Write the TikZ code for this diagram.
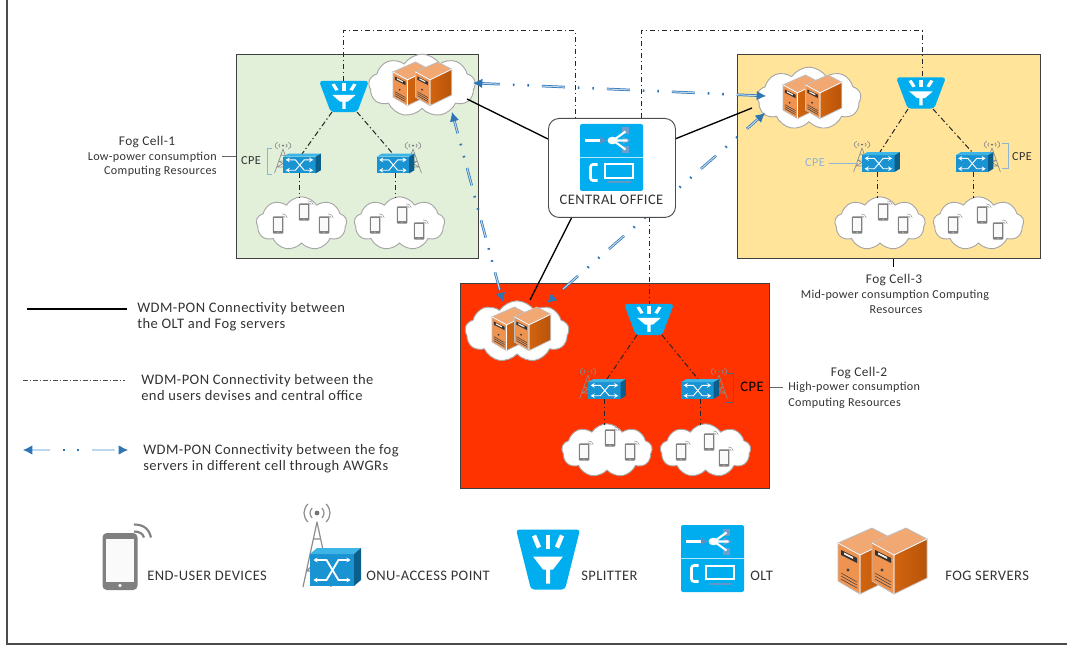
\documentclass[tikz,border=0pt]{standalone}
\usepackage{fontspec}
\setmainfont[LetterSpace=3]{Carlito}
\usetikzlibrary{arrows.meta,shapes.symbols,calc}
\definecolor{cyanicon}{HTML}{00AEEF}
\definecolor{onufront}{HTML}{1A93D2}
\definecolor{onutop}{HTML}{3DB4E6}
\definecolor{onuside}{HTML}{0B5F8A}
\definecolor{cellgreen}{HTML}{E2EFD9}
\definecolor{cellyellow}{HTML}{FFE49A}
\definecolor{cellred}{HTML}{FF3300}
\definecolor{fogblue}{HTML}{2E75B6}
\definecolor{foglight}{HTML}{BDD7EE}
\definecolor{bracketblue}{HTML}{8DB4D8}
\definecolor{srvface}{HTML}{EE9350}
\definecolor{srvtop}{HTML}{F2A873}
\definecolor{srvside}{HTML}{D2640F}
\definecolor{srvsidedark}{HTML}{B85409}
\definecolor{txt}{HTML}{333333}
\tikzset{
  x=0.75pt,y=-0.75pt,
  cellbox/.style={draw=black!75,line width=0.8pt,inner sep=0,minimum width=#1},
  fogcloud/.style={cloud,cloud puffs=9,cloud puff arc=115,cloud ignores aspect,draw=black!35,line width=0.7pt,fill=white,inner sep=0},
  lbl/.style={font=\fontsize{10.9}{12}\selectfont,text=txt,inner sep=0},
  small/.style={font=\fontsize{9.2}{10.5}\selectfont,text=txt,inner sep=0},
  tiny/.style={font=\fontsize{9.1}{10.5}\selectfont,text=txt,inner sep=0},
  legendtext/.style={font=\fontsize{10.9}{12}\selectfont,text=txt,inner sep=0,anchor=west,align=left},
  solidlink/.style={draw=black,line width=1pt},
  dotlink/.style={draw=black!85,line width=0.75pt,dash pattern=on 4pt off 2pt on 1pt off 2pt},
  bracket/.style={draw=bracketblue,line width=0.6pt},
  pointer/.style={draw=black!60,line width=0.6pt},
  fogarrow/.style n args={3}{draw=fogblue,line width=1.9pt,shorten <=3pt,shorten >=3pt,
     dash pattern=on #1pt off #2pt on 1.2pt off #2pt on 1.2pt off #2pt,
     postaction={draw=foglight,line width=0.8pt,dash pattern=on #1pt off #3pt},
     postaction={draw=fogblue,shorten <=0pt,shorten >=0pt,line width=0.6pt,dash pattern=on 0pt off 2000pt,
        arrows={Latex[length=7pt,width=7pt]-Latex[length=7pt,width=7pt]}}},
  pics/server/.style={code={
    \foreach \dx in {0,34}{
      \begin{scope}[shift={(\dx,0)}]
      \fill[srvtop,draw=black!25,line width=0.6pt] (0,15)--(34,0)--(55,11)--(22,27)--cycle;
      \fill[srvface,draw=black!25,line width=0.6pt] (0,15)--(22,27)--(22,66)--(0,53)--cycle;
      \shade[left color=srvside,right color=srvsidedark,draw=black!25,line width=0.6pt] (22,27)--(55,11)--(55,50)--(22,66)--cycle;
      \draw[white,line width=0.5pt] (0,15)--(22,27)--(55,11) (22,27)--(22,66);
      \fill[black!80] (3,22)--(19,30)--(19,35)--(3,27)--cycle;
      \fill[white!80!srvface] (6,24.5)--(15,29)--(15,31)--(6,26.5)--cycle;
      \fill[black!75] (10,42) circle (1.6);
      \draw[black!75,line width=0.4pt] (3,45)--(19,54) (3,48)--(19,57) (3,51)--(19,60);
      \end{scope}}
  }},
  pics/splitter/.style={code={
    \fill[cyanicon,rounded corners=2.5pt] (-32,-30)--(32,-30)--(17,30)--(-17,30)--cycle;
    \fill[white] (-15,-3)--(15,-3)--(5,10)--(2,10)--(2,24)--(-2,24)--(-2,10)--(-5,10)--cycle;
    \fill[white] (-2,-25)--(2,-25)--(2,-11)--(-2,-11)--cycle;
    \fill[white] (-16,-23)--(-12,-25)--(-7,-13)--(-11,-11)--cycle;
    \fill[white] (16,-23)--(12,-25)--(7,-13)--(11,-11)--cycle;
  }},
  pics/olt/.style={code={
    \fill[cyanicon,rounded corners=1.5pt] (-31.5,-33.5) rectangle (31.5,33.5);
    \draw[white!70!cyanicon,line width=0.5pt] (-31.5,0)--(31.5,0);
    \fill[fogblue!80] (-12,-21)--(-5,-17)--(-12,-13)--cycle;
    \fill[fogblue!70] (10,-30)--(17,-30)--(17,-23)--(10,-23)--cycle;
    \fill[fogblue!70] (11,-21)--(19,-17)--(11,-13)--cycle;
    \fill[fogblue!70] (10,-11)--(17,-11)--(17,-4)--(10,-4)--cycle;
    \fill[white] (-27,-18.5) rectangle (-12,-15.5);
    \fill[white] (1,-17) ellipse (5 and 3.8);
    \draw[white,line width=1.6pt] (3,-18)--(14,-26) (3,-17)--(16,-17) (3,-16)--(14,-8);
    \draw[white,line width=2pt,rounded corners=2pt] (-14,7)--(-21,7)--(-21,23)--(-14,23);
    \draw[white,line width=1.5pt] (-6.5,7) rectangle (21.5,20.5);
    \fill[fogblue!75] (-4,24) rectangle (19,26);
  }},
  pics/onu/.style={code={
    \fill[onufront] (-25.5,-13) rectangle (18.5,19);
    \fill[onutop] (-25.5,-13)--(-18.5,-19)--(25.5,-19)--(18.5,-13)--cycle;
    \fill[onuside] (18.5,-13)--(25.5,-19)--(25.5,13)--(18.5,19)--cycle;
    \draw[white,line width=#1,{Stealth[length=3pt,width=3.6pt]}-{Stealth[length=3pt,width=3.6pt]}] (-22,-7)--(-9,-7)--(3,13)--(15,13);
    \draw[white,line width=#1,{Stealth[length=3pt,width=3.6pt]}-{Stealth[length=3pt,width=3.6pt]}] (-22,13)--(-9,13)--(3,-7)--(15,-7);
  }},
  pics/tower/.style={code={
    \draw[black!45,line width=#1,line join=round] (-14,0)--(0,-65)--(14,0) (-10.5,-16)--(10.5,-16) (-7,-32)--(7,-32) (-3.5,-48)--(3.5,-48) (-10.5,-16)--(7,-32) (10.5,-16)--(-7,-32);
    \fill[black!55] (0,-74) circle (2.4);
    \foreach \r in {7,13}{
      \draw[black!45,line width=#1] (-.7*\r,-74-.7*\r) .. controls (-1.1*\r,-74-.25*\r) and (-1.1*\r,-74+.25*\r) .. (-.7*\r,-74+.7*\r);
      \draw[black!45,line width=#1] (.7*\r,-74-.7*\r) .. controls (1.1*\r,-74-.25*\r) and (1.1*\r,-74+.25*\r) .. (.7*\r,-74+.7*\r);}
  }},
  pics/phone/.style={code={
    \fill[black!50,rounded corners=2*#1] (-17.5,-28.5) rectangle (17.5,28.5);
    \fill[black!2] (-14,-23) rectangle (14,20);
    \fill[white] (0,24) circle (1.8);
    \draw[black!50,line width=#1] (14,-30) .. controls (19,-30) and (23,-28) .. (24,-24);
    \draw[black!50,line width=#1] (14,-37) .. controls (23,-37) and (29,-33) .. (31,-24);
  }},
}
\newcommand{\smallphones}[6]{%
  \pic[scale=0.3] at (#1,#2) {phone=0.3pt};
  \pic[scale=0.3] at (#3,#4) {phone=0.3pt};
  \pic[scale=0.3] at (#5,#6) {phone=0.3pt};}
\begin{document}
\begin{tikzpicture}
\useasboundingbox (0,0) rectangle (1067,645);
\coordinate (bt) at (7,0); \coordinate (bc) at (7,644); \coordinate (br) at (1067,644);
\draw[black!70,line width=0.8pt] (bt)--(bc)--(br);

% cells
\node[cellbox=181.5pt,minimum height=153pt,fill=cellgreen,anchor=north west] (cell1) at (236,54) {};
\node[cellbox=227.25pt,minimum height=153pt,fill=cellyellow,anchor=north west] (cell3) at (737,54) {};
\node[cellbox=231.75pt,minimum height=153.75pt,fill=cellred,anchor=north west] (cell2) at (460,283) {};

% named end points
\coordinate (s1t) at (343,81); \coordinate (s1l) at (332,112); \coordinate (s1r) at (357,112);
\coordinate (s3t) at (922,77); \coordinate (s3l) at (908,109); \coordinate (s3r) at (933,109);
\coordinate (s2t) at (649,304); \coordinate (s2l) at (637,335); \coordinate (s2r) at (662,335);
\coordinate (cotl) at (575,118); \coordinate (cotr) at (641,118); \coordinate (cob) at (649,217);
\coordinate (col) at (548,139); \coordinate (cor) at (675,139); \coordinate (cobl) at (572,217);
\coordinate (j1a) at (343,31); \coordinate (j1b) at (575,31); \coordinate (j3a) at (641,31); \coordinate (j3b) at (922,31);
\coordinate (f1) at (467,99); \coordinate (f3) at (752,108); \coordinate (f2) at (530,300);

% device clouds
\node[fogcloud,minimum width=68pt,minimum height=40pt] (c1a) at (301.5,223.5) {};
\node[fogcloud,minimum width=68pt,minimum height=40pt] (c1b) at (399.5,223.5) {};
\node[fogcloud,minimum width=68pt,minimum height=40pt] (c3a) at (880,223.5) {};
\node[fogcloud,minimum width=68pt,minimum height=40pt] (c3b) at (978.5,223.5) {};
\node[fogcloud,minimum width=68pt,minimum height=40pt] (c2a) at (607,450.5) {};
\node[fogcloud,minimum width=68pt,minimum height=40pt] (c2b) at (705.5,450.5) {};
% server clouds
\node[fogcloud,minimum width=80pt,minimum height=47pt] (sc1) at (422,85.5) {};
\node[fogcloud,minimum width=78pt,minimum height=47pt] (sc3) at (809,98.5) {};
\node[fogcloud,minimum width=78pt,minimum height=46pt] (sc2) at (517,331.5) {};

\smallphones{278}{225}{304}{212}{324}{225}
\smallphones{375}{225}{402}{215}{419}{231}
\smallphones{857}{225}{883}{212}{903}{225}
\smallphones{953}{225}{982}{215}{998}{231}
\smallphones{584}{452}{610}{438}{630}{452}
\smallphones{681}{452}{709}{442}{724}{458}

\pic[scale=0.66] at (393,62) {server};
\pic[scale=0.66] at (783,75) {server};
\pic[scale=0.66] at (492,307) {server};

% access point coordinates
\coordinate (o1at) at (302,154); \coordinate (o1bt) at (393,154);
\coordinate (o3at) at (880,152); \coordinate (o3bt) at (972,152);
\coordinate (o2at) at (607,379); \coordinate (o2bt) at (698,379);
\coordinate (o1ab) at (299,173); \coordinate (o1bb) at (395,173);
\coordinate (o3ab) at (877,172); \coordinate (o3bb) at (973,172);
\coordinate (o2ab) at (604,399); \coordinate (o2bb) at (700,399);
\coordinate (d1a) at (299,198); \coordinate (d1b) at (395,198);
\coordinate (d3a) at (877,198); \coordinate (d3b) at (973,198);
\coordinate (d2a) at (604,425); \coordinate (d2b) at (700,425);

% dash-dot links
\draw[dotlink] (s1t)--(j1a)--(j1b)--(cotl);
\draw[dotlink] (cotr)--(j3a)--(j3b)--(s3t);
\draw[dotlink] (cob)--(s2t);
\draw[dotlink] (s1l)--(o1at); \draw[dotlink] (s1r)--(o1bt);
\draw[dotlink] (s3l)--(o3at); \draw[dotlink] (s3r)--(o3bt);
\draw[dotlink] (s2l)--(o2at); \draw[dotlink] (s2r)--(o2bt);
\draw[dotlink] (o1ab)--(d1a); \draw[dotlink] (o1bb)--(d1b);
\draw[dotlink] (o3ab)--(d3a); \draw[dotlink] (o3bb)--(d3b);
\draw[dotlink] (o2ab)--(d2a); \draw[dotlink] (o2bb)--(d2b);

% splitters
\pic[xscale=0.78,yscale=0.52] at (344,96.5) {splitter};
\pic[xscale=0.78,yscale=0.52] at (921,93) {splitter};
\pic[xscale=0.78,yscale=0.52] at (649,319.5) {splitter};

% towers and ONUs
\pic[xscale=0.6,yscale=0.37] at (283,173) {tower=0.5pt};
\pic[xscale=0.6,yscale=0.37] at (413,173) {tower=0.5pt};
\pic[xscale=0.6,yscale=0.37] at (862,172) {tower=0.5pt};
\pic[xscale=0.6,yscale=0.37] at (992,172) {tower=0.5pt};
\pic[xscale=0.6,yscale=0.37] at (588,399) {tower=0.5pt};
\pic[xscale=0.6,yscale=0.37] at (719,399) {tower=0.5pt};
\pic[xscale=0.74,yscale=0.52] at (302,163.5) {onu=0.7pt};
\pic[xscale=0.74,yscale=0.52] at (395.5,163.5) {onu=0.7pt};
\pic[xscale=0.74,yscale=0.52] at (881,162) {onu=0.7pt};
\pic[xscale=0.74,yscale=0.52] at (974.5,162) {onu=0.7pt};
\pic[xscale=0.74,yscale=0.52] at (607,389) {onu=0.7pt};
\pic[xscale=0.74,yscale=0.52] at (700,389) {onu=0.7pt};

% blue arrows
\coordinate (a1) at (473,83); \coordinate (a3) at (766,96);
\coordinate (b1) at (452,112); \coordinate (b2) at (503,302);
\coordinate (c3) at (765,113); \coordinate (c2) at (547,303);
\draw[fogarrow={17.25}{9.7}{31.5}] (a1)--(a3);
\draw[fogarrow={13.5}{8.2}{27}] (b1)--(b2);
\draw[fogarrow={15}{9.45}{30.75}] (c3)--(c2);

% solid links
\draw[solidlink] (f1)--(col);
\draw[solidlink] (cor)--(f3);
\draw[solidlink] (cobl)--(f2);

% central office
\node[draw=black!70,line width=0.7pt,fill=white,rounded corners=8pt,minimum width=95.25pt,minimum height=74.25pt,inner sep=0,anchor=north west] (co) at (548,118) {};
\pic at (611.5,157.5) {olt};
\node[lbl] (cotext) at (611.5,200) {CENTRAL OFFICE};

% cell labels
\node[font=\fontsize{10}{12}\selectfont,text=txt,inner sep=0] (n1) at (147,142) {Fog Cell-1};
\node[tiny,anchor=east] (n1b) at (217,157) {Low-power consumption};
\node[tiny,anchor=east] (n1c) at (217,171) {Computing Resources};
\coordinate (n1p) at (222,156);
\draw[pointer] (n1p)--(n1p-|cell1.west);
\node[small] (cpe1) at (251,161) {CPE};
\coordinate (k1a) at (272,148); \coordinate (k1b) at (267,148); \coordinate (k1c) at (267,174); \coordinate (k1d) at (272,174);
\draw[bracket] (k1a)--(k1b)--(k1c)--(k1d);

\node[font=\fontsize{10}{12}\selectfont,text=txt,inner sep=0] (n2) at (859,373) {Fog Cell-2};
\node[tiny,anchor=west] (n2b) at (788,387) {High-power consumption};
\node[tiny,anchor=west] (n2c) at (788,403) {Computing Resources};
\coordinate (n2p) at (783,387);
\draw[pointer] (n2p)--(n2p-|cell2.east);
\node[lbl,text=black] (cpe2) at (752,387) {CPE};
\coordinate (k2a) at (727,373); \coordinate (k2b) at (733,373); \coordinate (k2c) at (733,402); \coordinate (k2d) at (725,402);
\draw[draw=black!45!bracketblue,line width=0.6pt] (k2a)--(k2b)--(k2c)--(k2d);

\coordinate (n3p) at (893,267);
\draw[draw=black,line width=0.7pt] (n3p)--(n3p|-cell3.south);
\node[font=\fontsize{10}{12}\selectfont,text=txt,inner sep=0] (n3) at (894,280) {Fog Cell-3};
\node[tiny] (n3b) at (895,295) {Mid-power consumption Computing};
\node[tiny] (n3c) at (896,310) {Resources};
\node[small,text=bracketblue] (cpe3a) at (815,163) {CPE};
\coordinate (l3) at (858,163);
\draw[bracket] (cpe3a.east)+(4,0)--(l3);
\node[small] (cpe3b) at (1022,157) {CPE};
\coordinate (k3a) at (1002,143); \coordinate (k3b) at (1008,143); \coordinate (k3c) at (1008,168); \coordinate (k3d) at (1002,168);
\draw[bracket] (k3a)--(k3b)--(k3c)--(k3d);

% legend lines
\coordinate (ll1) at (27,309); \coordinate (ll2) at (127,309);
\coordinate (lm1) at (23,380); \coordinate (lm2) at (125,380);
\coordinate (ln1) at (23,450); \coordinate (ln2) at (128,450);
\draw[solidlink] (ll1)--(ll2);
\draw[draw=black!70,line width=0.5pt,dash pattern=on 3.5pt off 1.5pt on 1pt off 1.5pt] (lm1)--(lm2);
\draw[fogarrow={17.25}{9.7}{31.5}] (ln1)--(ln2);
\node[legendtext] (t1) at (137,317) {WDM-PON Connectivity between\\the OLT and Fog servers};
\node[legendtext] (t2) at (141,388) {WDM-PON Connectivity between the\\end users devises and central office};
\node[legendtext] (t3) at (143,459) {WDM-PON Connectivity between the fog\\servers in different cell through AWGRs};

% legend icons
\pic at (120,561.5) {phone=1.6pt};
\pic at (317,587) {tower=0.9pt};
\pic at (335.5,567) {onu=1.4pt};
\pic at (548,559.5) {splitter};
\pic at (712.5,558.5) {olt};
\pic at (838,528) {server};
\node[lbl,anchor=west] (li1) at (147,576) {END-USER DEVICES};
\node[lbl,anchor=west] (li2) at (366,576) {ONU-ACCESS POINT};
\node[lbl,anchor=west] (li3) at (581,576) {SPLITTER};
\node[lbl,anchor=west] (li4) at (750,576) {OLT};
\node[lbl,anchor=west] (li5) at (945,576) {FOG SERVERS};
\end{tikzpicture}
\end{document}
